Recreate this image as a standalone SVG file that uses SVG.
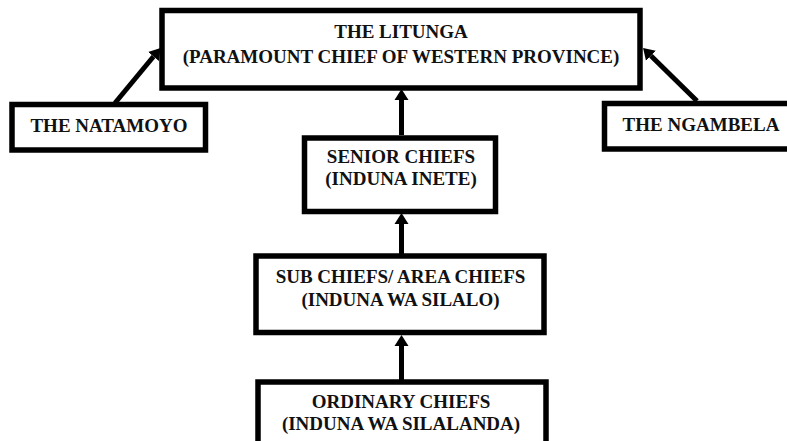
<svg xmlns="http://www.w3.org/2000/svg" width="787" height="441" viewBox="0 0 787 441">
<style>
.box{fill:#fff;stroke:#000;stroke-width:5.5}
.lbl{font-family:"Liberation Serif","Times New Roman",serif;font-weight:bold;font-size:19px;fill:#111;text-anchor:middle}
.con{stroke:#000;stroke-width:5;fill:none;marker-end:url(#ah)}
</style>
<defs>
<marker id="ah" markerUnits="userSpaceOnUse" markerWidth="12" markerHeight="15" refX="0" refY="7" orient="auto" viewBox="0 0 12 14">
<path d="M0,0 L11,7 L0,14 z" fill="#000"/>
</marker>
</defs>
<rect width="787" height="441" fill="#fff"/>
<g id="connectors">
<line class="con" x1="401.5" y1="135" x2="401.5" y2="100"/>
<line class="con" x1="401.5" y1="254" x2="401.5" y2="224"/>
<line class="con" x1="401.5" y1="380" x2="401.5" y2="346"/>
<line class="con" x1="115" y1="103" x2="153.5" y2="56.5"/>
<line class="con" x1="697" y1="101" x2="650.9" y2="55.7"/>
</g>
<g id="litunga">
<rect class="box" x="162" y="10.5" width="478" height="77.5"/>
<text class="lbl" x="401" y="38">THE LITUNGA</text>
<text class="lbl" x="401" y="63">(PARAMOUNT CHIEF OF WESTERN PROVINCE)</text>
</g>
<g id="natamoyo">
<rect class="box" x="12" y="104.5" width="193.5" height="45.5"/>
<text class="lbl" x="109" y="131.5">THE NATAMOYO</text>
</g>
<g id="ngambela">
<rect class="box" x="604.5" y="103.5" width="195" height="45.5"/>
<text class="lbl" x="701" y="131">THE NGAMBELA</text>
</g>
<g id="senior">
<rect class="box" x="304.5" y="138" width="191" height="73.5"/>
<text class="lbl" x="401" y="163">SENIOR CHIEFS</text>
<text class="lbl" x="401" y="185">(INDUNA INETE)</text>
</g>
<g id="sub">
<rect class="box" x="256" y="256" width="288" height="76.5"/>
<text class="lbl" x="400.5" y="282.5">SUB CHIEFS/ AREA CHIEFS</text>
<text class="lbl" x="400.5" y="306">(INDUNA WA SILALO)</text>
</g>
<g id="ordinary">
<rect class="box" x="258" y="382" width="288" height="75"/>
<text class="lbl" x="401" y="408">ORDINARY CHIEFS</text>
<text class="lbl" x="401" y="430">(INDUNA WA SILALANDA)</text>
</g>
</svg>
